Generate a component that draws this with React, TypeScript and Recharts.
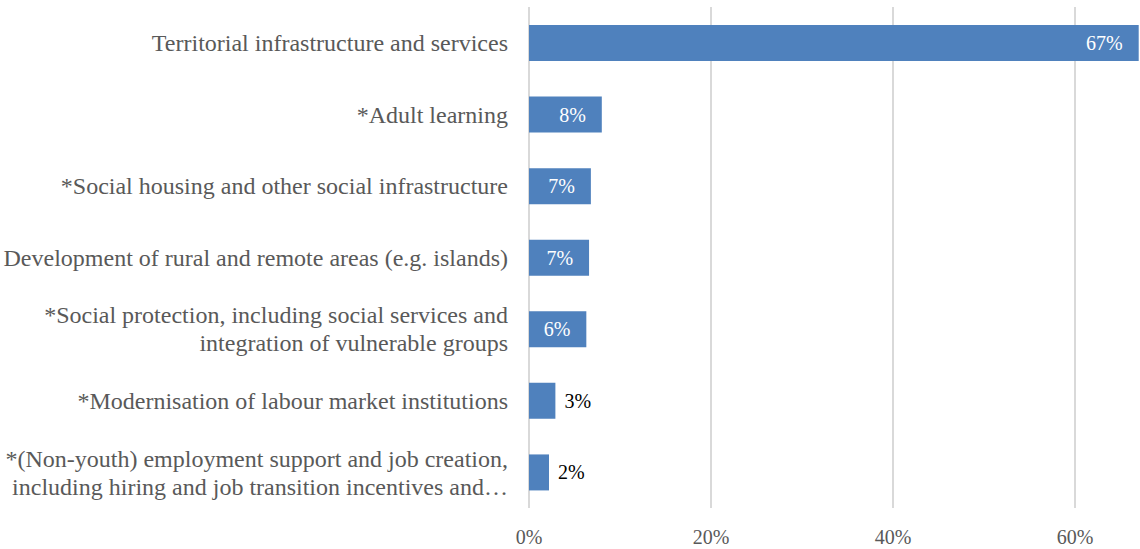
import React from "react";
import { BarChart, Bar, XAxis, YAxis, CartesianGrid, LabelList } from "recharts";

const categories: string[][] = [
  ["Territorial infrastructure and services"],
  ["*Adult learning"],
  ["*Social housing and other social infrastructure"],
  ["Development of rural and remote areas (e.g. islands)"],
  ["*Social protection, including social services and", "integration of vulnerable groups"],
  ["*Modernisation of labour market institutions"],
  ["*(Non-youth) employment support and job creation,", "including hiring and job transition incentives and…"],
];
const values: number[] = [0.67, 0.08, 0.068, 0.066, 0.063, 0.029, 0.022];
const labels: string[] = ["67%", "8%", "7%", "7%", "6%", "3%", "2%"];
const xTicks: number[] = [0, 0.2, 0.4, 0.6];

const data = categories.map((c, i) => ({ name: String(i), value: values[i], label: labels[i] }));

const FONT = "Liberation Serif";

const YTick = (props: any) => {
  const { x, y, payload } = props;
  const lines = categories[Number(payload.value)];
  const lh = 28;
  const start = -((lines.length - 1) * lh) / 2;
  return (
    <text x={x} y={y} textAnchor="end" fill="#595959" fontSize={24} fontFamily={FONT}>
      {lines.map((l, i) => (
        <tspan key={i} x={x} y={y + start + i * lh} dy="0.35em">
          {l}
        </tspan>
      ))}
    </text>
  );
};

const XTick = (props: any) => {
  const { x, y, payload } = props;
  return (
    <text x={x} y={y} dy="0.71em" textAnchor="middle" fill="#595959" fontSize={20} fontFamily={FONT}>
      {`${Math.round(payload.value * 100)}%`}
    </text>
  );
};

const BarLabel = (props: any) => {
  const { x, y, width, height, index } = props;
  const v = values[index];
  const text = labels[index];
  const cy = y + height / 2;
  if (v < 0.05) {
    return (
      <text x={x + width + 9} y={cy} dy="0.35em" textAnchor="start" fill="#000" fontSize={20} fontFamily={FONT}>
        {text}
      </text>
    );
  }
  return (
    <text x={x + width - 16} y={cy} dy="0.35em" textAnchor="end" fill="#fff" fontSize={20} fontFamily={FONT}>
      {text}
    </text>
  );
};

export default function App() {
  return (
    <div style={{ position: "absolute", left: 0, top: 0, width: 1140, height: 549, overflow: "hidden", background: "#fff" }}>
      <BarChart
        width={1166}
        height={549}
        data={data}
        layout="vertical"
        margin={{ top: 7, right: 0, bottom: 0, left: 0 }}
        barCategoryGap={0}
      >
        <CartesianGrid horizontal={false} vertical={true} stroke="#d9d9d9" strokeWidth={2} />
        <XAxis
          type="number"
          domain={[0, 0.7]}
          ticks={xTicks}
          axisLine={false}
          tickLine={false}
          height={41}
          tick={<XTick />}
          tickMargin={16}
          allowDataOverflow
        />
        <YAxis
          type="category"
          dataKey="name"
          width={529}
          axisLine={false}
          tickLine={false}
          tick={<YTick />}
          tickMargin={15}
          interval={0}
        />
        <Bar dataKey="value" fill="#4f81bd" barSize={36} isAnimationActive={false}>
          <LabelList dataKey="value" content={<BarLabel />} />
        </Bar>
      </BarChart>
    </div>
  );
}
